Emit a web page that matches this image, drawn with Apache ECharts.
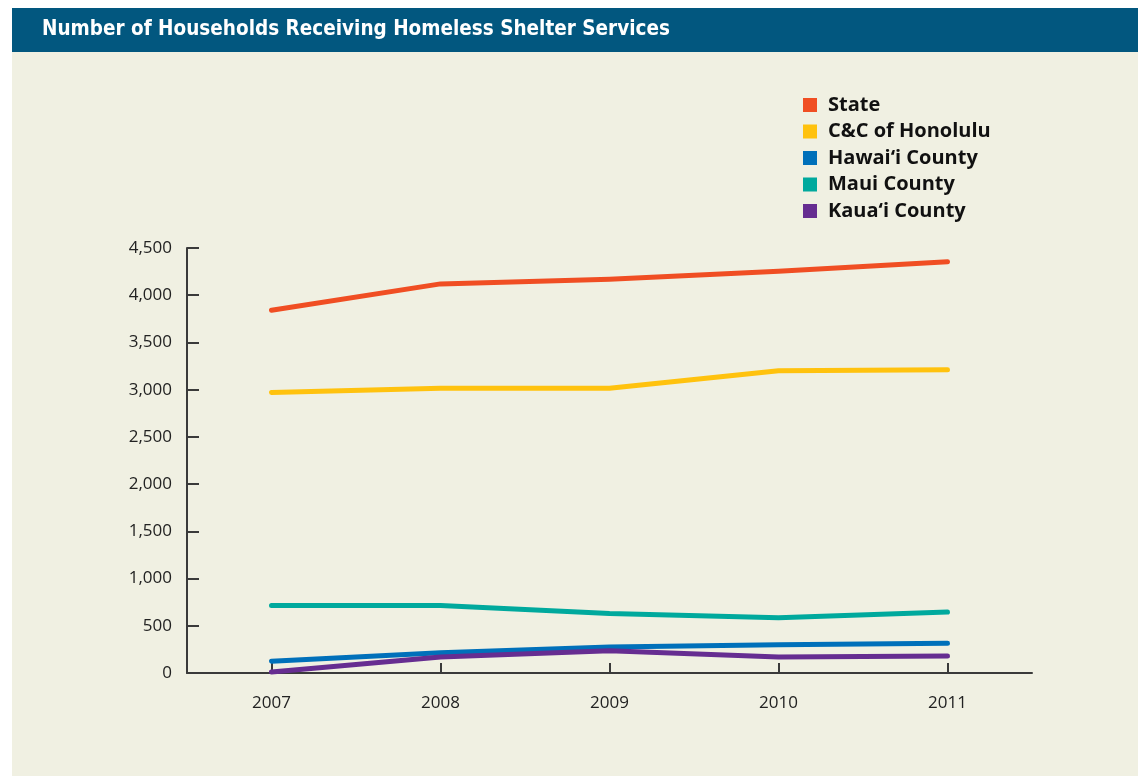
<!DOCTYPE html>
<html><head><meta charset="utf-8">
<script src="https://cdn.jsdelivr.net/npm/echarts@6/dist/echarts.min.js"></script>
<style>html,body{margin:0;padding:0;background:#fff}#c{width:1138px;height:776px}</style>
</head><body><div id="c"></div>
<script>
const years = ['2007','2008','2009','2010','2011'];
const stateVals = [3840, 4120, 4170, 4255, 4355];
const honoluluVals = [2970, 3015, 3015, 3200, 3210];
const hawaiiVals = [125, 215, 275, 300, 315];
const mauiVals = [715, 715, 630, 585, 645];
const kauaiVals = [10, 170, 235, 170, 180];
const seriesNames = ['State', 'C&C of Honolulu', 'Hawai‘i County', 'Maui County', 'Kaua‘i County'];
const colors = ['#F04E23', '#FFC20E', '#0070BA', '#00A99D', '#662D91'];
const title = 'Number of Households Receiving Homeless Shelter Services';

const chart = echarts.init(document.getElementById('c'));
const dataSets = [stateVals, honoluluVals, hawaiiVals, mauiVals, kauaiVals];
chart.setOption({
  backgroundColor: '#ffffff',
  animation: false,
  graphic: [
    {type:'rect', shape:{x:12,y:52,width:1126,height:724}, style:{fill:'#F0F0E2'}, z:-10},
    {type:'rect', shape:{x:12,y:8,width:1126,height:44}, style:{fill:'#02577F'}, z:-10},
    {type:'text', left:42, top:19, style:{text:title, fill:'#ffffff', font:'bold 20.5px "DejaVu Sans Condensed", "Open Sans", sans-serif'}}
  ],
  color: colors,
  legend: {
    orient:'vertical', left:798, top:90, itemWidth:14, itemHeight:14, itemGap:6.5, icon:'rect',
    data: seriesNames,
    textStyle:{fontFamily:'"Open Sans", sans-serif', fontWeight:'bold', fontSize:20, lineHeight:20, color:'#111', padding:[0,0,0,6]}
  },
  grid: {left:187, right:106, top:248, bottom:103, containLabel:false},
  xAxis: {
    type:'category', data: years, boundaryGap:true,
    axisLine:{lineStyle:{color:'#3a3a3a', width:2}},
    axisTick:{show:true, inside:true, alignWithLabel:true, length:10, lineStyle:{color:'#3a3a3a', width:2}},
    axisLabel:{margin:22, fontSize:17, color:'#222', fontFamily:'"Open Sans", sans-serif'}
  },
  yAxis: {
    type:'value', min:0, max:4500, interval:500,
    splitLine:{show:false},
    axisLine:{show:true, lineStyle:{color:'#3a3a3a', width:2}},
    axisTick:{show:true, inside:true, length:12, lineStyle:{color:'#3a3a3a', width:2}},
    axisLabel:{margin:15, fontSize:17, color:'#222', fontFamily:'"Open Sans", sans-serif',
      formatter: v => v.toLocaleString('en-US')}
  },
  series: seriesNames.map((n,i)=>({
    name:n, type:'line', data:dataSets[i], symbol:'none',
    lineStyle:{width:5, cap:'round', join:'round', color:colors[i]},
    itemStyle:{color:colors[i]}
  }))
});
</script></body></html>
